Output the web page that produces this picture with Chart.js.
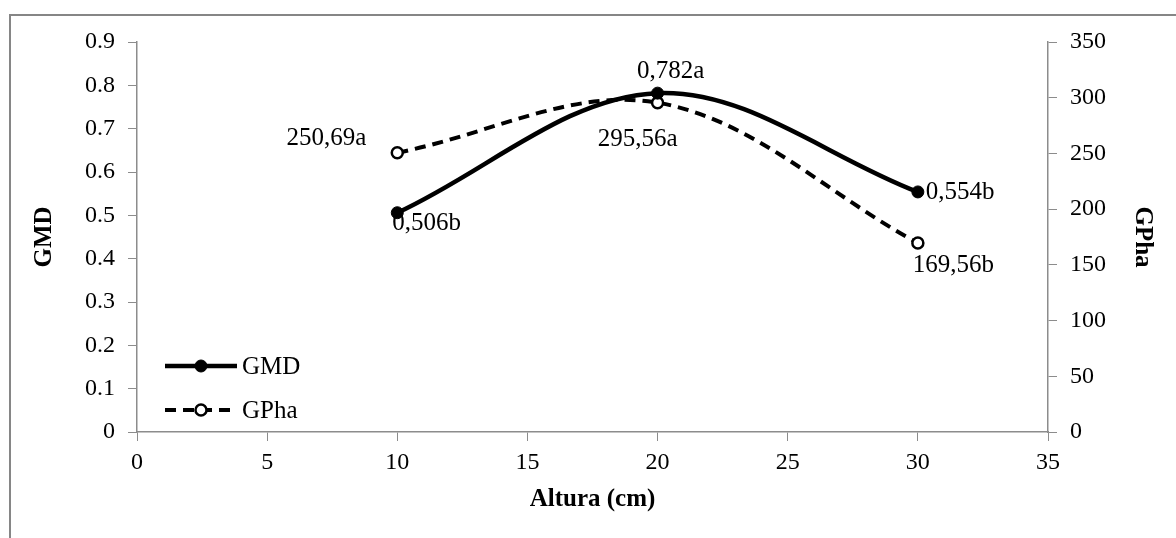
<!DOCTYPE html>
<html>
<head>
<meta charset="utf-8">
<script src="https://cdn.jsdelivr.net/npm/chart.js@4"></script>
<style>
    body { margin: 0; background: #fff; }
    #wrap { width: 1176px; height: 538px; position: relative; }
</style>
</head>
<body>
<div id="wrap"><canvas id="chart"></canvas></div>
<script>
// Données
const alturas = [10, 20, 30];
const gmd = [0.506, 0.782, 0.554];
const gpha = [250.69, 295.56, 169.56];
const gmdLabels = ['0,506b', '0,782a', '0,554b'];
const gphaLabels = ['250,69a', '295,56a', '169,56b'];

const FONT = '"Liberation Serif", "Times New Roman", serif';
const AXIS = '#8c8c8c';

// Décalage des étiquettes par rapport aux points [dx, dy, align]
const labelPos = {
    0: [[-5, 11, 'left'], [13, -22, 'center'], [8, 1, 'left']],
    1: [[-31, -14, 'right'], [-20, 37, 'center'], [-5, 22, 'left']],
};

const labelsPlugin = {
    id: 'pointLabels',
    afterDatasetsDraw(chart) {
        const ctx = chart.ctx;
        ctx.save();
        ctx.font = '25px ' + FONT;
        ctx.fillStyle = '#000';
        ctx.textBaseline = 'middle';
        [gmdLabels, gphaLabels].forEach((labels, di) => {
            const meta = chart.getDatasetMeta(di);
            meta.data.forEach((pt, i) => {
                const p = labelPos[di][i];
                ctx.textAlign = p[2];
                ctx.fillText(labels[i], pt.x + p[0], pt.y + p[1]);
            });
        });
        ctx.restore();
    }
};

// Légende dessinée dans la zone du graphique
const legendPlugin = {
    id: 'innerLegend',
    afterDraw(chart) {
        const ctx = chart.ctx;
        const rows = [366, 410];
        ctx.save();
        chart.data.datasets.forEach((ds, i) => {
            const y = rows[i];
            ctx.strokeStyle = ds.borderColor;
            ctx.lineWidth = ds.borderWidth;
            ctx.setLineDash(ds.borderDash || []);
            ctx.beginPath();
            ctx.moveTo(165, y);
            ctx.lineTo(237, y);
            ctx.stroke();
            ctx.setLineDash([]);
            ctx.beginPath();
            ctx.arc(201, y, ds.pointRadius, 0, Math.PI * 2);
            ctx.fillStyle = ds.pointBackgroundColor;
            ctx.fill();
            ctx.lineWidth = ds.pointBorderWidth;
            ctx.strokeStyle = ds.pointBorderColor;
            ctx.stroke();
            ctx.fillStyle = '#000';
            ctx.font = '25px ' + FONT;
            ctx.textAlign = 'left';
            ctx.textBaseline = 'middle';
            ctx.fillText(ds.label, 242, y + 1);
        });
        // cadre extérieur
        ctx.strokeStyle = '#868686';
        ctx.lineWidth = 2;
        ctx.strokeRect(10, 15, 1200, 600);
        ctx.restore();
    }
};

const tickFont = { family: FONT, size: 24 };
const titleFont = { family: FONT, size: 25, weight: 'bold' };

new Chart(document.getElementById('chart'), {
    type: 'line',
    data: {
        datasets: [{
            label: 'GMD',
            data: alturas.map((x, i) => ({ x: x, y: gmd[i] })),
            yAxisID: 'y',
            borderColor: '#000',
            borderWidth: 4.5,
            tension: 0.35,
            pointRadius: 6,
            pointBackgroundColor: '#000',
            pointBorderColor: '#000',
            pointBorderWidth: 1,
            clip: false,
        }, {
            label: 'GPha',
            data: alturas.map((x, i) => ({ x: x, y: gpha[i] })),
            yAxisID: 'y1',
            borderColor: '#000',
            borderWidth: 4,
            borderDash: [11, 7],
            tension: 0.35,
            pointRadius: 5.5,
            pointBackgroundColor: '#fff',
            pointBorderColor: '#000',
            pointBorderWidth: 2.5,
            clip: false,
        }],
    },
    options: {
        responsive: true,
        maintainAspectRatio: false,
        animation: false,
        layout: { padding: { top: 42, left: 0, right: 0, bottom: 0 } },
        plugins: {
            legend: { display: false },
            tooltip: { enabled: false },
        },
        scales: {
            x: {
                type: 'linear',
                min: 0,
                max: 35,
                ticks: { stepSize: 5, font: tickFont, color: '#000', padding: 7 },
                grid: { drawOnChartArea: false, drawTicks: true, tickLength: 9, color: AXIS },
                border: { color: AXIS, width: 1.5 },
                title: { display: true, text: 'Altura (cm)', font: titleFont, color: '#000', padding: { top: 0, bottom: 23 } },
                afterFit(scale) { scale.height = 106; },
            },
            y: {
                position: 'left',
                min: 0,
                max: 0.9,
                ticks: {
                    stepSize: 0.1,
                    font: tickFont,
                    color: '#000',
                    padding: 13,
                    callback: v => (Math.abs(v) < 1e-9 ? '0' : v.toFixed(1)),
                },
                grid: { drawOnChartArea: false, drawTicks: true, tickLength: 9, color: AXIS },
                border: { color: AXIS, width: 1.5 },
                title: { display: true, text: 'GMD', font: titleFont, color: '#000', padding: { top: 30, bottom: 0 } },
                afterFit(scale) { scale.width = 137; },
            },
            y1: {
                position: 'right',
                min: 0,
                max: 350,
                ticks: { stepSize: 50, font: tickFont, color: '#000', padding: 13 },
                grid: { drawOnChartArea: false, drawTicks: true, tickLength: 9, color: AXIS },
                border: { color: AXIS, width: 1.5 },
                title: { display: true, text: 'GPha', font: titleFont, color: '#000', padding: { top: 19, bottom: 0 } },
                afterFit(scale) { scale.width = 128; },
            },
        },
    },
    plugins: [labelsPlugin, legendPlugin],
});
</script>
</body>
</html>
